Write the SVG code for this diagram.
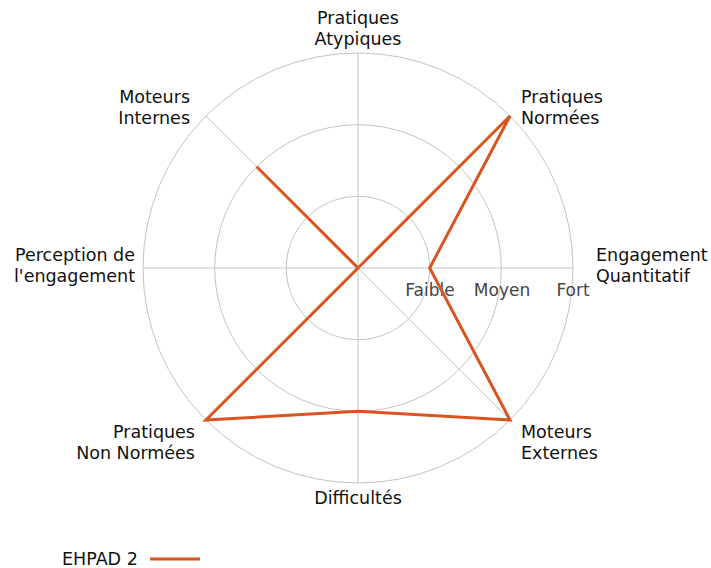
<svg xmlns="http://www.w3.org/2000/svg" width="711" height="568" viewBox="0 0 711 568">
<style>
.grid{fill:none;stroke:#c4c4c4;stroke-width:1}
.lbl{font-family:"DejaVu Sans",sans-serif;font-size:17.5px;fill:#111}
.tick{font-family:"DejaVu Sans",sans-serif;font-size:17px;fill:#444}
.series{fill:none;stroke:#d9541e;stroke-width:3;stroke-linejoin:miter}
</style>
<rect width="711" height="568" fill="#fff"/>
<g id="grid">
<circle class="grid" cx="358" cy="268" r="71.7"/>
<circle class="grid" cx="358" cy="268" r="143.3"/>
<circle class="grid" cx="358" cy="268" r="215"/>
<line class="grid" x1="358" y1="268" x2="573" y2="268"/>
<line class="grid" x1="358" y1="268" x2="510" y2="116"/>
<line class="grid" x1="358" y1="268" x2="358" y2="53"/>
<line class="grid" x1="358" y1="268" x2="206" y2="116"/>
<line class="grid" x1="358" y1="268" x2="143" y2="268"/>
<line class="grid" x1="358" y1="268" x2="206" y2="420"/>
<line class="grid" x1="358" y1="268" x2="358" y2="483"/>
<line class="grid" x1="358" y1="268" x2="510" y2="420"/>
</g>
<g id="ticks">
<text class="tick" x="430" y="296" text-anchor="middle">Faible</text>
<text class="tick" x="502" y="296" text-anchor="middle">Moyen</text>
<text class="tick" x="573" y="296" text-anchor="middle">Fort</text>
</g>
<g id="connectors">
<polygon class="series" points="429.7,268 510,116 358,268 256.7,166.7 358,268 206,420 358,411.3 510,420"/>
</g>
<g id="n-engagement"><text class="lbl" x="596" y="261">Engagement</text><text class="lbl" x="596" y="282">Quantitatif</text></g>
<g id="n-normees"><text class="lbl" x="521" y="103">Pratiques</text><text class="lbl" x="521" y="124">Normées</text></g>
<g id="n-atypiques"><text class="lbl" x="358" y="24" text-anchor="middle">Pratiques</text><text class="lbl" x="358" y="45" text-anchor="middle">Atypiques</text></g>
<g id="n-internes"><text class="lbl" x="190" y="103" text-anchor="end">Moteurs</text><text class="lbl" x="190" y="124" text-anchor="end">Internes</text></g>
<g id="n-perception"><text class="lbl" x="135" y="261" text-anchor="end">Perception de</text><text class="lbl" x="135" y="282" text-anchor="end">l'engagement</text></g>
<g id="n-nonnormees"><text class="lbl" x="195" y="438" text-anchor="end">Pratiques</text><text class="lbl" x="195" y="459" text-anchor="end">Non Normées</text></g>
<g id="n-difficultes"><text class="lbl" x="358" y="504" text-anchor="middle">Difficultés</text></g>
<g id="n-externes"><text class="lbl" x="521" y="438">Moteurs</text><text class="lbl" x="521" y="459">Externes</text></g>
<g id="legend">
<text class="lbl" x="62" y="565">EHPAD 2</text>
<line x1="150" y1="559" x2="200" y2="559" stroke="#d9541e" stroke-width="3"/>
</g>
</svg>
